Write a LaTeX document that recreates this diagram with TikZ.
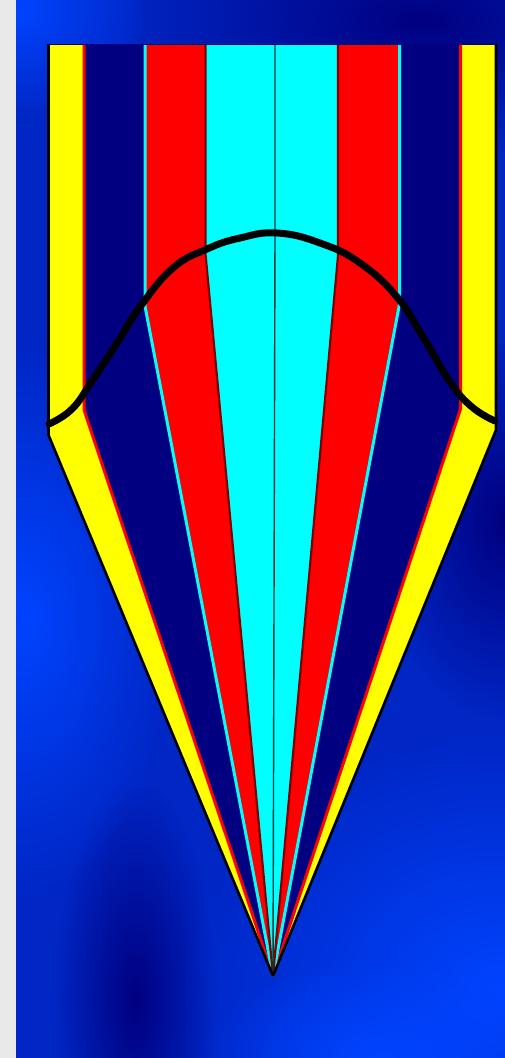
\documentclass[tikz,border=0pt]{standalone}
\usetikzlibrary{fadings}
\definecolor{stripgray}{RGB}{233,233,233}
\definecolor{bgmid}{RGB}{0,38,196}
\definecolor{bgbright}{RGB}{0,68,255}
\definecolor{bgnavy}{RGB}{0,0,128}
\definecolor{navyband}{RGB}{0,0,128}
\definecolor{cyanband}{RGB}{0,255,255}
\definecolor{redband}{RGB}{255,0,0}
\definecolor{yellowband}{RGB}{255,255,0}
\definecolor{darkred}{RGB}{128,0,0}
\definecolor{centerline}{RGB}{0,60,60}
\tikzfading[name=softblob, inner color=transparent!0, outer color=transparent!100]
\tikzset{
  blob/.style={fill=#1, path fading=softblob},
  edgeline/.style={draw=black, line width=2.6pt, line join=round},
  redline/.style={draw=redband, line width=3pt, line join=round},
  cyanline/.style={draw=cyanband, line width=3pt, line join=round},
  darkline/.style={draw=darkred, line width=2.2pt, line join=round},
  midline/.style={draw=centerline, line width=1.4pt},
  bell/.style={draw=black, line width=7pt, line cap=round, line join=round}
}
\begin{document}
\begin{tikzpicture}[x=1pt,y=-1pt]
\useasboundingbox (0,0) rectangle (505,1058);
% page strip and background
\fill[stripgray] (0,0) rectangle (16,1058);
\fill[bgmid] (16,0) rectangle (505,1058);
\begin{scope}
\clip (16,0) rectangle (505,1058);
\fill[blob=bgnavy] (420,20) ellipse (300 and 140);
\fill[blob=bgnavy] (505,520) ellipse (130 and 200);
\fill[blob=bgnavy] (135,1000) ellipse (80 and 220);
\fill[blob=bgbright] (25,620) ellipse (150 and 280);
\fill[blob=bgbright] (500,990) ellipse (320 and 260);
\fill[blob=bgbright] (20,10) ellipse (130 and 110);
\fill[blob=bgbright] (380,1058) ellipse (180 and 100);
\end{scope}
% key points: top of each line, bend point, apex
\coordinate (A) at (273,976);
\coordinate (t0) at (48.5,44);  \coordinate (b0) at (48.5,435);
\coordinate (t1) at (84,44);    \coordinate (b1) at (84,410);
\coordinate (t2) at (145,44);   \coordinate (b2) at (145,306);
\coordinate (t3) at (205.5,44); \coordinate (b3) at (205.5,254);
\coordinate (tc) at (275,44);   \coordinate (bc) at (275,233);
\coordinate (t4) at (338,44);   \coordinate (b4) at (338,256);
\coordinate (t5) at (399.5,44); \coordinate (b5) at (399.5,304);
\coordinate (t6) at (460.5,44); \coordinate (b6) at (460.5,409);
\coordinate (t7) at (496,44);   \coordinate (b7) at (496,430);
% bands
\fill[yellowband] (t0) -- (b0) -- (A) -- (b1) -- (t1) -- cycle;
\fill[navyband]   (t1) -- (b1) -- (A) -- (b2) -- (t2) -- cycle;
\fill[redband]    (t2) -- (b2) -- (A) -- (b3) -- (t3) -- cycle;
\fill[cyanband]   (t3) -- (b3) -- (A) -- (bc) -- (tc) -- cycle;
\fill[cyanband]   (tc) -- (bc) -- (A) -- (b4) -- (t4) -- cycle;
\fill[redband]    (t4) -- (b4) -- (A) -- (b5) -- (t5) -- cycle;
\fill[navyband]   (t5) -- (b5) -- (A) -- (b6) -- (t6) -- cycle;
\fill[yellowband] (t6) -- (b6) -- (A) -- (b7) -- (t7) -- cycle;
% boundary lines
\draw[redline]  (t1) -- (b1) -- (A);
\draw[redline]  (t6) -- (b6) -- (A);
\draw[cyanline] (t2) -- (b2) -- (A);
\draw[cyanline] (t5) -- (b5) -- (A);
\draw[darkline] (t3) -- (b3) -- (A);
\draw[darkline] (t4) -- (b4) -- (A);
\draw[midline]  (tc) -- (bc) -- (A);
\draw[edgeline] (t0) -- (b0) -- (A);
\draw[edgeline] (t7) -- (b7) -- (A);
\draw[draw=bgnavy, line width=1pt] (t0) -- (t7);
% bell curve
\draw[bell] plot[smooth, tension=0.75] coordinates {
  (49,424) (72,409) (92,381) (117,343) (140,307) (173,268)
  (207,249) (240,238) (277,233) (320,243) (360,263) (397,297)
  (423,337) (450,382) (472,407) (495,421)};
\end{tikzpicture}
\end{document}
